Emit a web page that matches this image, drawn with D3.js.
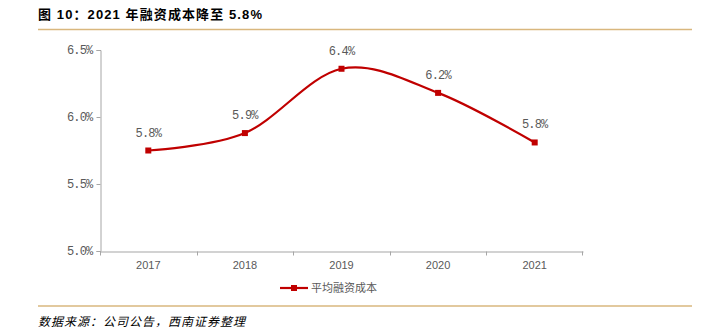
<!DOCTYPE html>
<html>
<head>
<meta charset="utf-8">
<script src="https://cdn.jsdelivr.net/npm/d3@7"></script>
<style>
  body { margin: 0; background: #fff; }
</style>
</head>
<body>
<svg id="chart"></svg>
<script>
const years = ["2017", "2018", "2019", "2020", "2021"];
const cost = [5.75, 5.88, 6.36, 6.18, 5.81];
const yTicks = [5.0, 5.5, 6.0, 6.5];
const seriesName = "平均融资成本";
const title = "图 10：2021 年融资成本降至 5.8%";
const source = "数据来源：公司公告，西南证券整理";

const width = 711, height = 332;
const red = "#c00000", grey = "#595959", gold = "#d9b77e";
const sans = "'Liberation Sans', 'Noto Sans CJK SC', sans-serif";
const mono = "'Liberation Mono', monospace";
const cjk = "'Noto Sans CJK SC', sans-serif";

const svg = d3.select("#chart")
  .attr("width", width)
  .attr("height", height);

// header
svg.append("text")
  .attr("x", 38).attr("y", 19)
  .style("font-family", sans)
  .style("font-size", "13px").style("font-weight", "bold")
  .style("letter-spacing", "1.1px")
  .attr("fill", "#000")
  .text(title);
svg.append("line")
  .attr("x1", 38).attr("x2", 692).attr("y1", 29.5).attr("y2", 29.5)
  .attr("stroke", gold).attr("stroke-width", 1.5);

let x = d3.scaleBand()
  .domain(years)
  .range([100, 583]);
let y = d3.scaleLinear()
  .domain([5.0, 6.5])
  .range([251, 50]);

// y axis
let yAxis = d3.axisLeft(y)
  .tickValues(yTicks)
  .tickSize(4)
  .tickFormat(d => d3.format(".1f")(d) + "%");
let gy = svg.append("g")
  .attr("transform", "translate(100.5,0)")
  .call(yAxis);
gy.select(".domain").attr("stroke", "#a6a6a6");
gy.selectAll(".tick line").attr("stroke", "#a6a6a6");
gy.selectAll(".tick text")
  .attr("fill", grey)
  .style("font-size", "12px")
  .style("font-family", mono)
  .style("letter-spacing", "-0.8px")
  .attr("x", -8);

// x axis
let xAxis = d3.axisBottom(x).tickSize(0).tickPadding(10);
let gx = svg.append("g")
  .attr("transform", "translate(0,251.5)")
  .call(xAxis);
gx.select(".domain").attr("stroke", "#a6a6a6").attr("stroke-width", 1.2);
gx.selectAll(".tick text")
  .attr("fill", grey)
  .style("font-size", "11px")
  .style("font-family", sans);
// category boundary ticks
gx.selectAll(".bound")
  .data(years.concat(["end"]))
  .enter().append("line")
  .attr("x1", (d, i) => i < years.length ? Math.round(x(d)) + 0.5 : 582.5)
  .attr("x2", (d, i) => i < years.length ? Math.round(x(d)) + 0.5 : 582.5)
  .attr("y1", 0).attr("y2", 4)
  .attr("stroke", "#a6a6a6");

const cx = d => x(d) + x.bandwidth() / 2;

// smooth line
let line = d3.line()
  .x((d, i) => cx(years[i]))
  .y(d => y(d))
  .curve(d3.curveCardinal.tension(0));
svg.append("path")
  .datum(cost)
  .attr("d", line)
  .attr("fill", "none")
  .attr("stroke", red)
  .attr("stroke-width", 2.2);

svg.selectAll(".mk")
  .data(cost)
  .enter().append("rect")
  .attr("x", (d, i) => cx(years[i]) - 3)
  .attr("y", d => y(d) - 3)
  .attr("width", 6).attr("height", 6)
  .attr("fill", red);

svg.selectAll(".lbl")
  .data(cost)
  .enter().append("text")
  .attr("x", (d, i) => cx(years[i]))
  .attr("y", d => y(d) - 14)
  .attr("text-anchor", "middle")
  .style("font-size", "12px")
  .style("font-family", mono)
  .style("letter-spacing", "-0.8px")
  .attr("fill", grey)
  .text(d => d3.format(".1f")(d) + "%");

// legend
let lg = svg.append("g").attr("transform", "translate(280,288)");
lg.append("line")
  .attr("x1", 0).attr("x2", 28).attr("y1", 0).attr("y2", 0)
  .attr("stroke", red).attr("stroke-width", 2.2);
lg.append("rect")
  .attr("x", 11).attr("y", -3).attr("width", 6).attr("height", 6)
  .attr("fill", red);
lg.append("text")
  .attr("x", 31).attr("y", 4)
  .style("font-size", "11px")
  .style("font-family", cjk)
  .attr("fill", grey)
  .text(seriesName);

// footer
svg.append("line")
  .attr("x1", 38).attr("x2", 692).attr("y1", 306).attr("y2", 306)
  .attr("stroke", gold).attr("stroke-width", 1.5);
svg.append("text")
  .attr("x", 38).attr("y", 326)
  .style("font-size", "12px")
  .style("font-style", "italic")
  .style("letter-spacing", "1px")
  .style("font-family", cjk)
  .attr("fill", "#000")
  .text(source);
</script>
</body>
</html>
